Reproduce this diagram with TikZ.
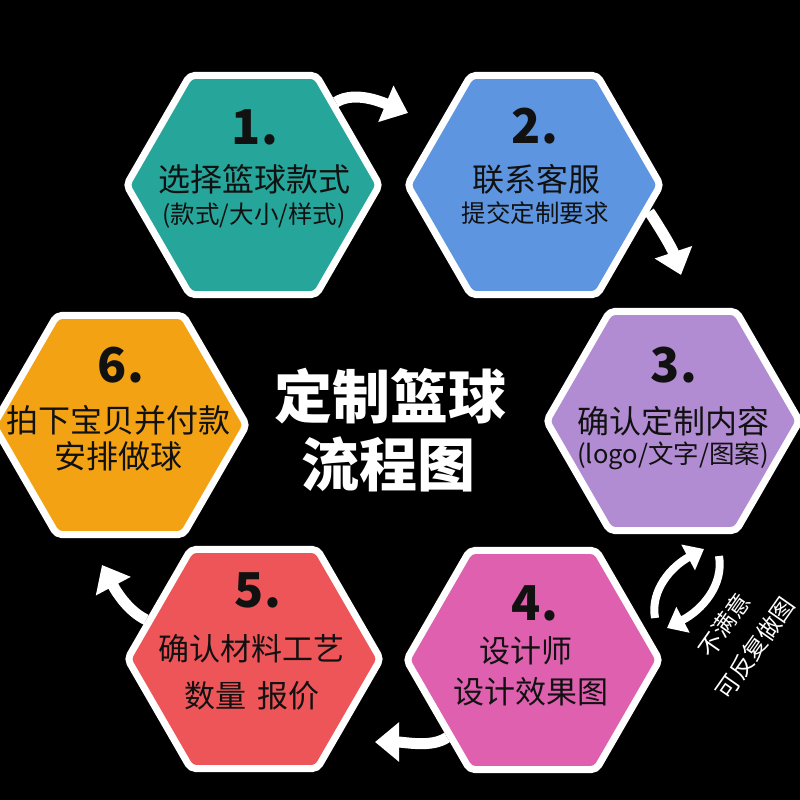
\documentclass[tikz,border=0pt]{standalone}
\usepackage{fontspec}
\newfontfamily\cjk{Noto Sans CJK SC}
\usetikzlibrary{shapes.geometric,arrows.meta}
\definecolor{cteal}{RGB}{38,166,154}
\definecolor{cblue}{RGB}{93,149,224}
\definecolor{cpurple}{RGB}{178,140,211}
\definecolor{cpink}{RGB}{224,96,176}
\definecolor{cred}{RGB}{238,85,88}
\definecolor{corange}{RGB}{243,162,20}
\definecolor{txt}{RGB}{17,17,17}
\pgfdeclarelayer{background}
\pgfsetlayers{background,main}
\begin{document}
\begin{tikzpicture}[x=1pt,y=-1pt,
  hexa/.style={regular polygon, regular polygon sides=6, minimum size=253pt, inner sep=0pt, draw=white, line width=7pt, rounded corners=5pt},
  num/.style={font=\cjk\bfseries\fontsize{48}{48}\selectfont, text=txt},
  mainline/.style={font=\cjk\fontsize{32}{32}\selectfont, text=txt},
  mainsmall/.style={font=\cjk\fontsize{31}{31}\selectfont, text=txt},
  subline/.style={font=\cjk\fontsize{24.5}{24.5}\selectfont, text=txt},
  titletext/.style={font=\cjk\bfseries\fontsize{58}{58}\selectfont, text=white},
  notetext/.style={font=\cjk\fontsize{23.5}{23.5}\selectfont, text=white, rotate=55, inner sep=1pt},
  flow/.style={draw=white, line width=11pt, -{Triangle[length=24pt,width=38pt]}},
  flowsmall/.style={draw=white, line width=8pt, -{Triangle[length=18pt,width=28pt]}},
]
\useasboundingbox (0,0) rectangle (800,800);

% hexagons
\node[hexa, fill=cteal]   (h1) at (253,185) {};
\node[hexa, fill=cblue]   (h2) at (534,185) {};
\node[hexa, fill=cpurple] (h3) at (673,421) {};
\node[hexa, fill=cpink]   (h4) at (533,660) {};
\node[hexa, fill=cred]    (h5) at (254,659) {};
\node[hexa, fill=corange] (h6) at (120,425) {};

% texts
\node[num] (n1) at (255,127) {1.};
\node[mainline] (m1) at (254,179) {选择篮球款式};
\node[subline] (s1) at (254,216) {(款式/大小/样式)};

\node[num] (n2) at (535,126) {2.};
\node[mainline] (m2) at (536,179) {联系客服};
\node[subline] (s2) at (535,213) {提交定制要求};

\node[num] (n3) at (674,365) {3.};
\node[mainline] (m3) at (673,421) {确认定制内容};
\node[subline, font=\cjk\fontsize{25.5}{25.5}\selectfont] (s3) at (673,456) {(logo/文字/图案)};

\node[num] (n6) at (121,365) {6.};
\node[mainline] (m6) at (118,420) {拍下宝贝并付款};
\node[mainline] (l6) at (118,456) {安排做球};

\node[num] (n5) at (258,590) {5.};
\node[mainsmall] (m5) at (251,649) {确认材料工艺};
\node[mainsmall] (l5) at (252,696) {数量\hspace{12pt}报价};

\node[num] (n4) at (535,603) {4.};
\node[mainsmall] (m4) at (526,651) {设计师};
\node[mainsmall] (l4) at (531,692) {设计效果图};

% title
\node[titletext] (t1) at (390,396) {定制篮球};
\node[titletext] (t2) at (388,464) {流程图};

% note (two rotated lines)
\node[notetext] (note1) at (724,625) {不满意};
\node[notetext] (note2) at (755,648) {可反复做图};

% arrows
\coordinate (t12) at (408,113);
\coordinate (t23) at (681,275);
\coordinate (t45) at (375,742);
\coordinate (t56) at (102,565);
\coordinate (u0) at (655,618);
\coordinate (u1) at (704,549);
\coordinate (d0) at (719,556);
\coordinate (d1) at (667,628);

\begin{pgfonlayer}{background}
\fill[black] (0,0) rectangle (800,800);
\draw[flow] (h1.45) .. controls (355,90) and (384,103) .. (t12);
\draw[flow] (h2.-13) .. controls (660,228) and (672,248) .. (t23);
\draw[flow] (h4.222) .. controls (432,748) and (405,742) .. (t45);
\draw[flow] (h5.160) .. controls (130,612) and (118,595) .. (t56);
\draw[flowsmall] (u0) .. controls (650,590) and (672,566) .. (u1);
\draw[flowsmall] (d0) .. controls (724,585) and (702,610) .. (d1);
\end{pgfonlayer}
\end{tikzpicture}
\end{document}
